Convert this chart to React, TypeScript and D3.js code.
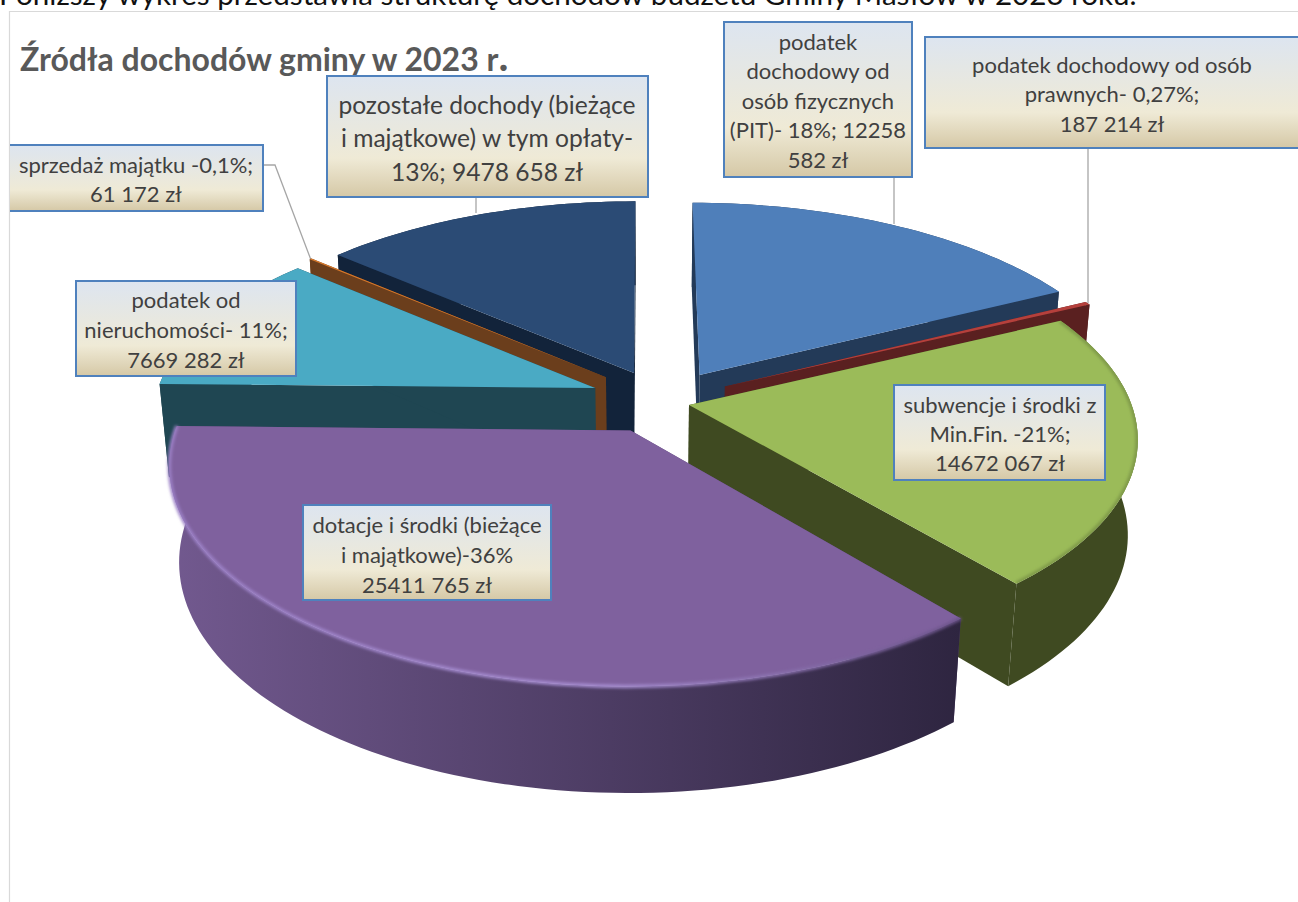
import React from "react";
import * as d3 from "d3";

// ---- data ----
const categories = [
  "podatek dochodowy od osób fizycznych (PIT)",
  "podatek dochodowy od osób prawnych",
  "subwencje i środki z Min.Fin.",
  "dotacje i środki (bieżące i majątkowe)",
  "podatek od nieruchomości",
  "sprzedaż majątku",
  "pozostałe dochody (bieżące i majątkowe) w tym opłaty",
];
const values = [12258582, 187214, 14672067, 25411765, 7669282, 61172, 9478658];
const labelLines = [
  ["podatek", "dochodowy od", "osób fizycznych", "(PIT)- 18%; 12258", "582 zł"],
  ["podatek dochodowy od osób", "prawnych- 0,27%;", "187 214 zł"],
  ["subwencje i środki z", "Min.Fin. -21%;", "14672 067 zł"],
  ["dotacje i środki (bieżące", "i majątkowe)-36%", "25411 765 zł"],
  ["podatek od", "nieruchomości- 11%;", "7669 282 zł"],
  ["sprzedaż majątku -0,1%;", "61 172 zł"],
  ["pozostałe dochody (bieżące", "i majątkowe) w tym opłaty-", "13%; 9478 658 zł"],
];
const titleText = "Źródła dochodów gminy w 2023 r";
const headerText = "Poniższy wykres przedstawia strukturę dochodów budżetu Gminy Masłów w 2023 roku.";

// ---- styling ----
const topColors = ["#4f7fba", "#b5403c", "#9bbb59", "#7f619e", "#4aaac4", "#d9792a", "#2b4b75"];
const sideColors = ["#233a58", "#5a2020", "#3f4a21", "#5a4575", "#1f4652", "#6b3e1c", "#12233a"];
const arcLeftColors = ["#233a58", "#5a2020", "#3f4a21", "#72598f", "#1f4652", "#6b3e1c", "#12233a"];
const arcRightColors = ["#233a58", "#5a2020", "#3f4a21", "#2e2540", "#1f4652", "#6b3e1c", "#12233a"];
const drawOrder = [6, 5, 4, 0, 1, 2, 3];

// ---- projection & layout ----
const W = 1298, H = 902;
const cx = 645, cy = 400, A = 441, B = 205, D = 96, p = 0.15, q = 0.02;
const pullX = [0.126, 0.183, 0.0994, -0.032, -0.114, -0.09, -0.0254];
const pullY = [-0.124, -0.066, 0.0243, 0.145, -0.059, -0.113, -0.134];
const radii = [1, 1, 1, 1.01, 1, 1, 1];
const project = (x: number, y: number, z: number): [number, number] => {
  const w = 1 - p * y + q * z;
  return [cx + (x * A) / w, cy + (y * B + z * D) / w];
};

const fsSmall = 22, fsBig = 24.6;
const boxes = [
  { x: 724, y: 22, w: 188, h: 155, fs: fsSmall, cxt: 818, lead: 29.5, ly0: 42 },
  { x: 925, y: 37, w: 380, h: 111, fs: fsSmall, cxt: 1112, lead: 29.5, ly0: 65 },
  { x: 894, y: 385, w: 211, h: 95, fs: fsSmall, cxt: 1000, lead: 29, ly0: 405 },
  { x: 303, y: 505, w: 248, h: 95, fs: fsSmall, cxt: 427, lead: 30, ly0: 525 },
  { x: 76, y: 281, w: 220, h: 95, fs: fsSmall, cxt: 186, lead: 30, ly0: 300 },
  { x: 4, y: 145, w: 259, h: 66, fs: fsSmall, cxt: 136, lead: 29, ly0: 165 },
  { x: 327, y: 76, w: 321, h: 121, fs: fsBig, cxt: 487, lead: 33.5, ly0: 105 },
];
const leaders: [number, number][][] = [
  [[894, 177], [894, 224]],
  [[1088, 148], [1088, 303]],
  [[476, 197], [476, 213]],
  [[263, 165], [275, 165], [311, 260]],
];

const pieArcs = d3.pie<number>().sort(null).startAngle(0).endAngle(2 * Math.PI)(values);
const line = d3.line<[number, number]>();

export default function App() {
  const slices = pieArcs.map((a, i) => {
    const n = Math.max(2, Math.ceil(((a.endAngle - a.startAngle) * 180) / Math.PI / 1.5));
    const thetas = d3.range(n + 1).map((k) => a.startAngle + ((a.endAngle - a.startAngle) * k) / n);
    const rim = (t: number, z: number) =>
      project(pullX[i] + radii[i] * Math.sin(t), pullY[i] - radii[i] * Math.cos(t), z);
    const apex = (z: number) => project(pullX[i], pullY[i], z);
    const top = line([apex(0), ...thetas.map((t) => rim(t, 0))]) + "Z";
    const arcWall =
      line([...thetas.map((t) => rim(t, 0)), ...thetas.slice().reverse().map((t) => rim(t, 1))]) + "Z";
    const wallA = line([apex(0), rim(a.startAngle, 0), rim(a.startAngle, 1), apex(1)]) + "Z";
    const wallB = line([apex(0), rim(a.endAngle, 0), rim(a.endAngle, 1), apex(1)]) + "Z";
    const rimLine = line(thetas.map((t) => rim(t, 0)))!;
    const xs = thetas.map((t) => rim(t, 0)[0]);
    return { i, top, arcWall, wallA, wallB, rimLine, x0: d3.min(xs)!, x1: d3.max(xs)! };
  });

  return (
    <svg width={W} height={H} viewBox={`0 0 ${W} ${H}`}
      style={{ position: "absolute", left: 0, top: 0, display: "block", background: "#fff" }}
      fontFamily="Lato, 'Open Sans', sans-serif">
      <defs>
        <linearGradient id="lab" x1="0" y1="0" x2="0" y2="1">
          <stop offset="0" stopColor="#dde5f0" />
          <stop offset="0.68" stopColor="#efead6" />
          <stop offset="1" stopColor="#d5c8a6" />
        </linearGradient>
        <filter id="soft" x="-5%" y="-5%" width="110%" height="110%">
          <feGaussianBlur stdDeviation="1.6" />
        </filter>
        <clipPath id="chartArea"><rect x={10} y={0} width={W} height={H} /></clipPath>
        <clipPath id="topClip2"><path d={slices[2].top} /></clipPath>
        {slices.map((s) => (
          <linearGradient key={s.i} id={`arc${s.i}`} gradientUnits="userSpaceOnUse"
            x1={s.x0} y1={0} x2={s.x1} y2={0}>
            <stop offset="0" stopColor={arcLeftColors[s.i]} />
            <stop offset="1" stopColor={arcRightColors[s.i]} />
          </linearGradient>
        ))}
        <linearGradient id="rim3" gradientUnits="userSpaceOnUse" x1={170} y1={0} x2={960} y2={0}>
          <stop offset="0" stopColor="#9b80c6" />
          <stop offset="0.55" stopColor="#a78ed2" />
          <stop offset="1" stopColor="#6b5389" />
        </linearGradient>
      </defs>

      <text x={-1} y={5} fontSize={29.6} fill="#111" fontFamily="Lato, sans-serif">{headerText}</text>
      <path d="M9.5 902V11.5H1298" fill="none" stroke="#d9d9d9" strokeWidth={1.2} />
      <text x={20} y={71} fontSize={32} fontWeight={700} fill="#595959">
        {titleText}
        <tspan fontSize={42}>.</tspan>
      </text>

      {leaders.map((l, i) => (
        <path key={i} d={line(l)!} fill="none" stroke="#a6a6a6" strokeWidth={1.3} />
      ))}

      {drawOrder.map((i) => {
        const s = slices[i];
        const walls = [
          { d: s.arcWall, y: i === 2 || i === 3 ? 1 : -1, fill: `url(#arc${i})` },
          { d: s.wallA, y: 0, fill: sideColors[i] },
          { d: s.wallB, y: 0, fill: sideColors[i] },
        ].sort((a, b) => a.y - b.y);
        return (
          <g key={i}>
            <title>{categories[i]}</title>
            {walls.map((w, k) => (
              <path key={k} d={w.d} fill={w.fill} />
            ))}
            <path d={s.top} fill={topColors[i]} />
            {i === 3 && (
              <path d={s.rimLine} fill="none" stroke="url(#rim3)" strokeWidth={3.5} filter="url(#soft)" />
            )}
            {i === 2 && (
              <g clipPath="url(#topClip2)">
                <path d={s.rimLine} fill="none" stroke="#7f9a48" strokeWidth={5} filter="url(#soft)" />
              </g>
            )}
          </g>
        );
      })}

      <g clipPath="url(#chartArea)">
        {boxes.map((b, i) => (
          <g key={i}>
            <rect x={b.x} y={b.y} width={b.w} height={b.h} fill="url(#lab)" stroke="#4f81bd" strokeWidth={2} />
            {labelLines[i].map((t, k) => (
              <text key={k} x={b.cxt} y={b.ly0 + k * b.lead} dy="0.35em" textAnchor="middle"
                fontSize={b.fs} fill="#404040">{t}</text>
            ))}
          </g>
        ))}
      </g>
    </svg>
  );
}
